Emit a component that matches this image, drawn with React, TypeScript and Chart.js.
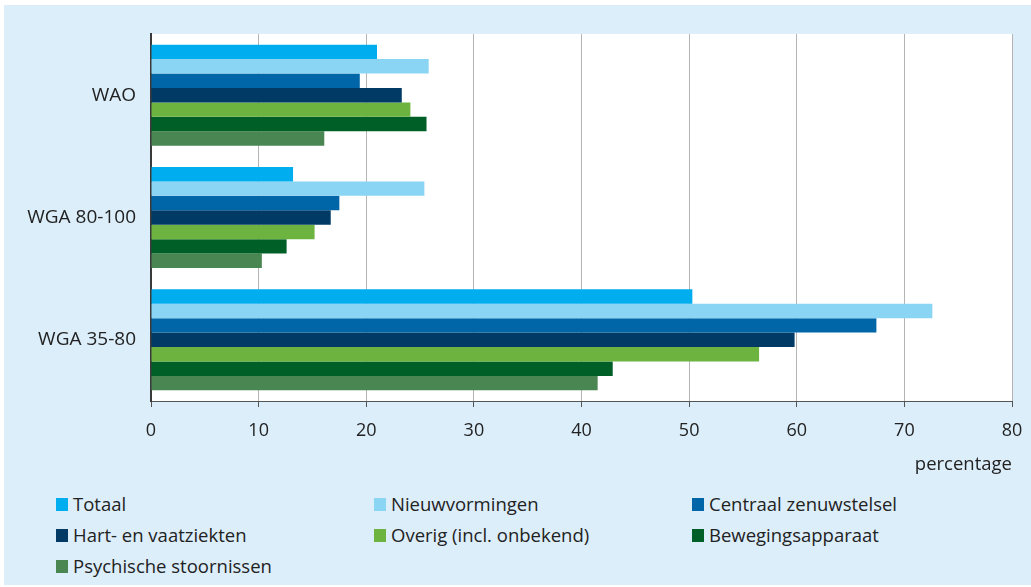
import React, { useEffect, useRef } from "react";
import { Chart, registerables } from "chart.js";

Chart.register(...registerables);

const categories = ["WAO", "WGA 80-100", "WGA 35-80"];
const seriesNames = [
  "Totaal",
  "Nieuwvormingen",
  "Centraal zenuwstelsel",
  "Hart- en vaatziekten",
  "Overig (incl. onbekend)",
  "Bewegingsapparaat",
  "Psychische stoornissen",
];
const totaal = [21.0, 13.2, 50.3];
const nieuwvormingen = [25.8, 25.4, 72.6];
const centraal = [19.4, 17.5, 67.4];
const hart = [23.3, 16.7, 59.8];
const overig = [24.1, 15.2, 56.5];
const beweging = [25.6, 12.6, 42.9];
const psychisch = [16.1, 10.3, 41.5];
const seriesValues = [totaal, nieuwvormingen, centraal, hart, overig, beweging, psychisch];
const colors = ["#00aeef", "#8ad4f4", "#0066a8", "#013a64", "#6db33f", "#005f27", "#4a8651"];
const xTicks = [0, 10, 20, 30, 40, 50, 60, 70, 80];
const xTitle = "percentage";

const FONT = "'Open Sans', 'Noto Sans', sans-serif";
const BG = "#dceefa";

const plotBg = {
  id: "plotBg",
  beforeDraw(chart: any) {
    const { ctx, chartArea } = chart;
    ctx.save();
    ctx.fillStyle = "#ffffff";
    ctx.fillRect(chartArea.left, chartArea.top, chartArea.right - chartArea.left, chartArea.bottom - chartArea.top);
    ctx.restore();
  },
};

export default function App() {
  const ref = useRef<HTMLCanvasElement | null>(null);

  useEffect(() => {
    if (!ref.current) return;
    const chart = new Chart(ref.current, {
      type: "bar",
      data: {
        labels: categories,
        datasets: seriesNames.map((name, i) => ({
          label: name,
          data: seriesValues[i],
          backgroundColor: colors[i],
          borderWidth: 0,
          barPercentage: 1,
          categoryPercentage: 0.825,
        })),
      },
      options: {
        indexAxis: "y",
        animation: false,
        responsive: false,
        maintainAspectRatio: false,
        layout: { padding: { top: 29, right: 19, left: 0, bottom: 0 } },
        plugins: {
          legend: { display: false },
          tooltip: { enabled: false },
        },
        scales: {
          x: {
            min: 0,
            max: 80,
            afterBuildTicks: (scale: any) => {
              scale.ticks = xTicks.map((v) => ({ value: v }));
            },
            afterFit: (scale: any) => {
              scale.height = 84;
              scale.paddingLeft = 0;
              scale.paddingRight = 0;
            },
            grid: {
              color: "#b4b4b4",
              lineWidth: 1,
              drawTicks: true,
              tickLength: 6,
              tickColor: "#555555",
            },
            border: { display: true, color: "#555555", width: 1 },
            ticks: {
              padding: 13,
              color: "#222222",
              font: { family: FONT, size: 18 },
            },
            title: {
              display: true,
              text: xTitle,
              align: "end",
              color: "#222222",
              font: { family: FONT, size: 18.5 },
              padding: { top: 0, bottom: 9 },
            },
          },
          y: {
            afterFit: (scale: any) => {
              scale.width = 147;
            },
            grid: { display: false, drawTicks: false },
            border: { display: true, color: "#3a3a3a", width: 2 },
            ticks: {
              padding: 15,
              color: "#222222",
              font: { family: FONT, size: 19 },
            },
          },
        },
      },
      plugins: [plotBg],
    } as any);
    return () => chart.destroy();
  }, []);

  const legendCols = [52, 370, 688];
  const legendRows = [492, 523, 554];

  return (
    <div
      style={{
        position: "absolute",
        left: 4,
        top: 5,
        width: 1027,
        height: 580,
        background: BG,
        fontFamily: FONT,
      }}
    >
      <canvas ref={ref} width={1027} height={480} style={{ display: "block", width: 1027, height: 480 }} />
      {seriesNames.map((name, i) => {
        const col = i % 3;
        const row = Math.floor(i / 3);
        return (
          <div
            key={name}
            style={{
              position: "absolute",
              left: legendCols[col],
              top: legendRows[row],
              height: 14,
              display: "flex",
              alignItems: "center",
              whiteSpace: "nowrap",
            }}
          >
            <span style={{ display: "inline-block", width: 12, height: 13, background: colors[i], marginRight: 5 }} />
            <span style={{ fontSize: 18.5, color: "#222222", lineHeight: "14px" }}>{name}</span>
          </div>
        );
      })}
    </div>
  );
}
